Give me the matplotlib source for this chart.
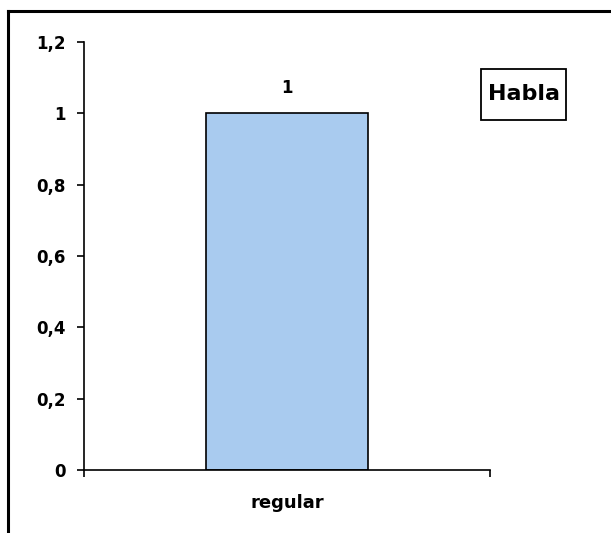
import numpy as np
import matplotlib.pyplot as plt
from matplotlib.lines import Line2D
from matplotlib.patches import Rectangle

categories = ['regular']
values = [1]
legend_label = 'Habla'
yticks = [0, 0.2, 0.4, 0.6, 0.8, 1, 1.2]
ytick_labels = ['0', '0,2', '0,4', '0,6', '0,8', '1', '1,2']

plt.rcParams['font.family'] = ['DejaVu Sans']
plt.rcParams['font.weight'] = 'bold'

W, H = 611, 533
fig = plt.figure(figsize=(W / 100, H / 100), dpi=100)

# outer chart border (only left and top visible in the crop)
fig.add_artist(Line2D([8 / W, 8 / W], [0, 1 - 11 / H], transform=fig.transFigure,
                      color='black', lw=2.2))
fig.add_artist(Line2D([8 / W, 1], [1 - 11 / H, 1 - 11 / H], transform=fig.transFigure,
                      color='black', lw=2.2))

ax = fig.add_axes([84 / W, 63 / H, 406 / W, 428 / H])

x = np.arange(len(categories)) + 0.5
ax.bar(x, values, width=0.4, color='#a9cbef', edgecolor='black', linewidth=1.2,
       label=legend_label)
for xi, v in zip(x, values):
    ax.text(xi, v + 0.072, f'{v:g}', ha='center', va='center', fontsize=12, fontweight='bold')

ax.set_xlim(0, len(categories))
ax.set_ylim(0, 1.2)
ax.set_yticks(yticks)
ax.set_yticklabels(ytick_labels, fontsize=12, fontweight='bold')
ax.set_xticks(np.arange(len(categories) + 1))
ax.set_xticklabels([])
ax.set_xticks(x, minor=True)
ax.set_xticklabels(categories, minor=True, fontsize=13, fontweight='bold')
ax.tick_params(axis='x', which='minor', length=0, pad=17)
ax.tick_params(axis='x', which='major', length=5, width=1.2)
ax.tick_params(axis='y', length=5, width=1.2, pad=8)
ax.spines['top'].set_visible(False)
ax.spines['right'].set_visible(False)
for s in ['left', 'bottom']:
    ax.spines[s].set_linewidth(1.2)

# legend box: text only, no marker
fig.add_artist(Rectangle((481 / W, 1 - 120 / H), 85 / W, 51 / H, transform=fig.transFigure,
                         facecolor='white', edgecolor='black', linewidth=1.3))
fig.text(523.5 / W, 1 - 94 / H, legend_label, ha='center', va='center', fontsize=16,
         fontweight='bold')

fig.savefig('out.png', dpi=100)
